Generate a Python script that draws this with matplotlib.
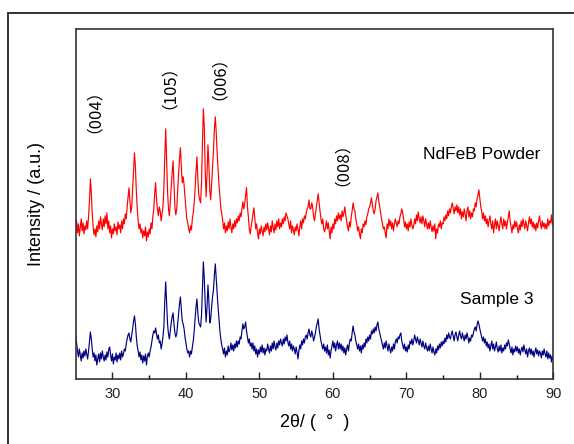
import numpy as np
import matplotlib
matplotlib.use("Agg")
import matplotlib.pyplot as plt
from matplotlib.patches import Rectangle

plt.rcParams['font.family'] = ['Liberation Sans', 'DejaVu Sans']

# 2theta grid: 25.000 .. 90.000 step 0.125 (521 points); 16 values per 2 degrees
two_theta = np.linspace(25.0, 90.0, 521)

ndfeb_powder = [
    150, 158, 146, 155, 143, 152, 160, 148, 156, 145, 153, 149, 158, 150, 162, 178,  # 25
    200, 186, 165, 152, 144, 150, 142, 153, 147, 158, 150, 162, 155, 149, 160, 152,  # 27
    163, 155, 166, 150, 158, 146, 153, 141, 150, 145, 155, 148, 152, 144, 157, 150,  # 29
    154, 146, 158, 150, 160, 155, 165, 160, 172, 182, 191, 178, 166, 172, 190, 210,  # 31
    226, 212, 188, 170, 158, 150, 155, 146, 150, 141, 148, 143, 152, 138, 147, 142,  # 33
    150, 145, 156, 150, 162, 170, 185, 196, 180, 170, 163, 172, 168, 158, 165, 172,  # 35
    190, 222, 250, 220, 188, 170, 163, 176, 192, 206, 218, 194, 172, 164, 170, 188,  # 37
    205, 220, 231, 212, 196, 202, 194, 182, 170, 160, 156, 150, 146, 153, 149, 160,  # 39
    166, 176, 190, 208, 222, 200, 184, 179, 176, 196, 236, 270, 252, 208, 182, 205,  # 41
    234, 214, 188, 179, 196, 214, 228, 250, 262, 246, 226, 210, 194, 182, 171, 165,  # 43
    158, 150, 156, 146, 153, 148, 157, 150, 160, 152, 146, 155, 150, 158, 152, 160,  # 45
    156, 163, 158, 166, 162, 170, 177, 170, 175, 184, 191, 172, 162, 150, 145, 152,  # 47
    158, 165, 171, 160, 150, 155, 146, 140, 150, 145, 153, 148, 143, 152, 147, 155,  # 49
    149, 156, 150, 144, 153, 147, 158, 151, 146, 155, 149, 158, 152, 160, 150, 156,  # 51
    152, 160, 155, 162, 158, 166, 163, 160, 155, 150, 158, 146, 153, 149, 144, 152,  # 53
    148, 155, 150, 143, 152, 158, 150, 160, 156, 163, 160, 166, 170, 172, 179, 170,  # 55
    170, 176, 172, 162, 158, 165, 172, 178, 185, 176, 168, 160, 155, 160, 150, 147,  # 57
    152, 158, 150, 156, 148, 140, 152, 146, 155, 150, 160, 155, 163, 158, 166, 160,  # 59
    164, 158, 168, 162, 166, 172, 164, 158, 152, 148, 157, 152, 162, 168, 176, 170,  # 61
    168, 160, 155, 148, 152, 145, 140, 150, 146, 155, 152, 158, 154, 162, 165, 170,  # 63
    172, 176, 181, 174, 168, 165, 170, 178, 182, 186, 178, 172, 166, 160, 155, 150,  # 65
    152, 146, 141, 155, 150, 160, 153, 158, 150, 156, 148, 155, 160, 156, 152, 158,  # 67
    155, 162, 165, 170, 166, 160, 152, 157, 150, 155, 148, 157, 152, 160, 154, 150,  # 69
    153, 160, 155, 164, 158, 167, 160, 156, 162, 155, 163, 158, 152, 160, 155, 150,  # 71
    156, 150, 158, 152, 147, 153, 148, 155, 140, 150, 146, 155, 152, 158, 150, 156,  # 73
    155, 162, 158, 164, 160, 168, 163, 170, 166, 172, 176, 170, 165, 172, 168, 174,  # 75
    166, 172, 164, 170, 160, 167, 162, 170, 165, 158, 168, 172, 162, 168, 160, 166,  # 77
    162, 170, 168, 176, 172, 180, 184, 189, 180, 172, 168, 160, 166, 158, 163, 155,  # 79
    160, 152, 158, 163, 155, 150, 158, 146, 154, 160, 150, 158, 153, 148, 156, 162,  # 81
    155, 150, 160, 153, 158, 150, 156, 162, 168, 158, 152, 146, 154, 150, 158, 152,  # 83
    157, 150, 146, 154, 149, 158, 152, 160, 155, 150, 158, 153, 148, 156, 162, 155,  # 85
    160, 152, 157, 150, 155, 148, 156, 151, 158, 163, 155, 150, 158, 152, 156, 150,  # 87
    155, 150, 160, 153, 158, 156, 164, 154, 160,                                     # 89-90
]

sample_3 = [
    44, 36, 28, 22, 30, 24, 18, 26, 21, 28, 23, 30, 25, 20, 28, 38,        # 25
    47, 40, 30, 22, 26, 18, 24, 14, 20, 25, 17, 26, 20, 28, 22, 18,        # 27
    24, 19, 27, 22, 30, 32, 24, 18, 25, 15, 22, 19, 26, 17, 24, 20,        # 29
    26, 19, 28, 22, 25, 30, 28, 35, 40, 44, 46, 40, 37, 44, 50, 58,        # 31
    63, 55, 42, 33, 28, 22, 27, 19, 24, 16, 23, 18, 25, 14, 22, 26,        # 33
    22, 28, 32, 38, 44, 48, 46, 51, 45, 40, 44, 36, 38, 30, 35, 42,        # 35
    52, 78, 97, 75, 55, 45, 40, 48, 56, 62, 66, 55, 46, 42, 45, 55,        # 37
    64, 75, 82, 70, 58, 55, 50, 42, 36, 30, 26, 28, 22, 28, 25, 32,        # 39
    38, 48, 60, 72, 80, 66, 56, 54, 52, 64, 92, 117, 100, 75, 57, 72,      # 41
    94, 78, 56, 60, 72, 82, 89, 104, 115, 100, 86, 72, 60, 48, 40, 34,     # 43
    30, 25, 31, 22, 28, 24, 33, 27, 30, 36, 29, 34, 28, 35, 31, 38,        # 45
    32, 38, 35, 42, 40, 48, 55, 50, 52, 57, 48, 42, 36, 40, 33, 36,        # 47
    30, 36, 28, 33, 25, 30, 22, 29, 25, 32, 27, 34, 26, 31, 24, 30,        # 49
    28, 35, 30, 26, 33, 28, 36, 30, 38, 32, 29, 36, 31, 38, 34, 40,        # 51
    36, 33, 40, 35, 42, 38, 44, 37, 33, 38, 30, 35, 28, 33, 30, 25,        # 53
    32, 27, 20, 28, 34, 30, 38, 34, 40, 36, 42, 44, 40, 46, 50, 44,        # 55
    42, 48, 44, 38, 42, 46, 52, 56, 60, 50, 44, 38, 34, 30, 35, 28,        # 57
    32, 26, 34, 24, 29, 21, 28, 33, 38, 31, 36, 28, 34, 38, 30, 36,        # 59
    30, 35, 28, 33, 26, 31, 24, 30, 34, 28, 36, 40, 38, 46, 53, 47,        # 61
    44, 38, 34, 30, 35, 28, 33, 26, 34, 30, 36, 32, 40, 36, 42, 38,        # 63
    44, 40, 48, 45, 50, 46, 52, 48, 54, 57, 50, 46, 42, 38, 34, 30,        # 65
    36, 31, 38, 33, 28, 35, 30, 26, 32, 28, 35, 30, 37, 40, 36, 42,        # 67
    40, 44, 46, 38, 34, 30, 35, 28, 32, 27, 34, 30, 38, 35, 40, 34,        # 69
    38, 44, 40, 36, 42, 38, 34, 40, 36, 32, 38, 33, 30, 36, 31, 28,        # 71
    33, 28, 35, 30, 26, 32, 27, 24, 30, 26, 33, 29, 35, 31, 37, 33,        # 73
    38, 35, 41, 37, 44, 40, 46, 42, 40, 45, 48, 43, 38, 44, 47, 42,        # 75
    38, 44, 48, 43, 40, 46, 42, 38, 44, 40, 46, 42, 36, 41, 38, 44,        # 77
    42, 46, 50, 52, 48, 54, 58, 55, 50, 46, 42, 38, 42, 36, 40, 33,        # 79
    37, 31, 35, 28, 33, 38, 30, 35, 28, 32, 37, 30, 27, 33, 28, 34,        # 81
    26, 31, 28, 34, 30, 36, 33, 39, 35, 30, 26, 32, 24, 30, 27, 33,        # 83
    28, 32, 26, 30, 24, 29, 32, 27, 34, 29, 25, 30, 22, 28, 31, 25,        # 85
    30, 24, 28, 22, 27, 31, 25, 29, 23, 28, 26, 21, 28, 24, 30, 25,        # 87
    22, 28, 20, 26, 21, 24, 17, 23, 19,                                    # 89-90
]

peak_labels = ["\uff08004\uff09", "\uff08105\uff09", "\uff08006\uff09", "\uff08008\uff09"]
peak_label_x = [26.3, 36.5, 43.3, 60.0]
peak_label_y = [276, 300, 309, 223]

series_names = ["NdFeB Powder", "Sample 3"]

W, H = 574, 444
fig = plt.figure(figsize=(W / 100, H / 100), dpi=100)
fig.patch.set_facecolor('white')

# outer frame (runs past the right/bottom edge of the picture)
fig.patches.append(Rectangle((8 / W, -0.1), 1.2, 1 - 12.7 / H + 0.1,
                             transform=fig.transFigure, fill=False,
                             edgecolor='#333333', linewidth=1.4))

ax = fig.add_axes([75.7 / W, 1 - 379 / H, (553.3 - 75.7) / W, (379 - 28.7) / H])

ax.plot(two_theta, ndfeb_powder, color='#ff0000', linewidth=0.85)
ax.plot(two_theta, sample_3, color='#000080', linewidth=0.85)

ax.set_xlim(25, 90)
ax.set_ylim(0, 350)
ax.set_xticks([30, 40, 50, 60, 70, 80, 90])
ax.set_xticks([35, 45, 55, 65, 75, 85], minor=True)
ax.tick_params(axis='x', which='major', direction='in', length=5, width=1,
               labelsize=10.5, pad=6, colors='#222222')
ax.tick_params(axis='x', which='minor', direction='in', length=3, width=1)
ax.set_yticks([])
for s in ax.spines.values():
    s.set_color('#333333')
    s.set_linewidth(1.2)

ax.set_xlabel("2\u03b8/ (  \u00b0  )", fontsize=13, labelpad=9)
ax.set_ylabel("Intensity / (a.u.)", fontsize=13, labelpad=22)

for lab, x, y in zip(peak_labels, peak_label_x, peak_label_y):
    ax.text(x, y, lab, rotation=90, ha='center', va='center', fontsize=12,
            family=['Noto Sans CJK SC', 'DejaVu Sans'])

ax.text(80.3, 224, series_names[0], ha='center', va='center', fontsize=12.5)
ax.text(82.3, 79, series_names[1], ha='center', va='center', fontsize=12.5)

fig.savefig("out.png", dpi=100)
